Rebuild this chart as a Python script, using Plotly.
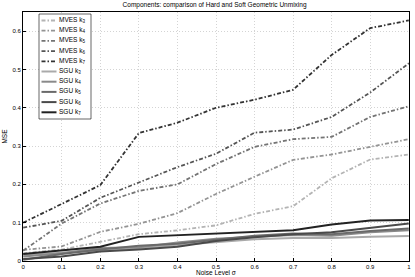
import plotly.graph_objects as go

noise = [0, 0.1, 0.2, 0.3, 0.4, 0.5, 0.6, 0.7, 0.8, 0.9, 1.0]

mves_k3 = [0.020, 0.030, 0.050, 0.070, 0.080, 0.093, 0.123, 0.143, 0.216, 0.265, 0.278]
mves_k4 = [0.029, 0.038, 0.076, 0.097, 0.125, 0.175, 0.220, 0.264, 0.278, 0.298, 0.318]
mves_k5 = [0.027, 0.098, 0.150, 0.183, 0.200, 0.253, 0.298, 0.318, 0.324, 0.376, 0.404]
mves_k6 = [0.087, 0.105, 0.165, 0.205, 0.245, 0.280, 0.335, 0.343, 0.376, 0.440, 0.516]
mves_k7 = [0.100, 0.148, 0.198, 0.334, 0.361, 0.400, 0.421, 0.447, 0.538, 0.608, 0.628]

sgu_k3 = [0.015, 0.022, 0.028, 0.034, 0.042, 0.050, 0.057, 0.060, 0.060, 0.063, 0.065]
sgu_k4 = [0.012, 0.020, 0.034, 0.036, 0.048, 0.058, 0.063, 0.068, 0.066, 0.075, 0.080]
sgu_k5 = [0.003, 0.018, 0.030, 0.040, 0.045, 0.055, 0.066, 0.072, 0.070, 0.078, 0.085]
sgu_k6 = [0.005, 0.012, 0.025, 0.030, 0.037, 0.052, 0.062, 0.070, 0.075, 0.086, 0.098]
sgu_k7 = [0.018, 0.027, 0.037, 0.063, 0.067, 0.073, 0.076, 0.080, 0.095, 0.106, 0.107]

labels_k = ["3", "4", "5", "6", "7"]
mves = [mves_k3, mves_k4, mves_k5, mves_k6, mves_k7]
sgu = [sgu_k3, sgu_k4, sgu_k5, sgu_k6, sgu_k7]

mves_colors = ["#b4b4b4", "#949494", "#747474", "#555555", "#333333"]
sgu_colors = ["#aaaaaa", "#8a8a8a", "#6a6a6a", "#4a4a4a", "#222222"]
MVES_DASH = "4px,2px,1.5px,2px"

x_ticks = [0, 0.1, 0.2, 0.3, 0.4, 0.5, 0.6, 0.7, 0.8, 0.9, 1]
x_ticklabels = ["0", "0.1", "0.2", "0.3", "0.4", "0.5", "0.6", "0.7", "0.8", "0.9", "1"]
y_ticks = [0, 0.1, 0.2, 0.3, 0.4, 0.5, 0.6]
y_ticklabels = ["0", "0.1", "0.2", "0.3", "0.4", "0.5", "0.6"]

W, H = 415, 277
ML, MR, MT, MB = 23, 6, 12, 16
PW, PH = W - ML - MR, H - MT - MB


def px_x(px):
    return (px - ML) / PW


def px_y(py):
    return (H - MB - py) / PH


fig = go.Figure()
for k, vals, c in zip(labels_k, mves, mves_colors):
    fig.add_trace(go.Scatter(x=noise, y=vals, mode="lines", showlegend=False,
                             name=f"MVES k<sub>{k}</sub>",
                             line=dict(color=c, width=1.8, dash=MVES_DASH)))
for k, vals, c in zip(labels_k, sgu, sgu_colors):
    fig.add_trace(go.Scatter(x=noise, y=vals, mode="lines", showlegend=False,
                             name=f"SGU k<sub>{k}</sub>",
                             line=dict(color=c, width=2)))

# custom compact legend (box, line samples, labels)
shapes = [dict(type="rect", xref="paper", yref="paper", layer="above",
               x0=px_x(39), x1=px_x(91), y0=px_y(119), y1=px_y(14),
               line=dict(color="#000", width=0.6), fillcolor="white")]
annotations = []
leg_names = [f"MVES k<sub>{k}</sub>" for k in labels_k] + [f"SGU k<sub>{k}</sub>" for k in labels_k]
leg_colors = mves_colors + sgu_colors
leg_dash = [MVES_DASH] * 5 + ["solid"] * 5
leg_width = [1.8] * 5 + [2] * 5
for i, (nm, c, d, w) in enumerate(zip(leg_names, leg_colors, leg_dash, leg_width)):
    yc = 20.5 + 10.2 * i
    shapes.append(dict(type="line", xref="paper", yref="paper", layer="above",
                       x0=px_x(41.5), x1=px_x(56.5), y0=px_y(yc), y1=px_y(yc),
                       line=dict(color=c, width=w, dash=d)))
    annotations.append(dict(text=nm, xref="paper", yref="paper",
                            x=px_x(57), y=px_y(yc - 0.5), xanchor="left", yanchor="middle",
                            showarrow=False, font=dict(size=6.5, color="#000")))

# x-axis title placed just under the tick labels
annotations.append(dict(text="Noise Level σ", xref="paper", yref="paper",
                        x=0.5, y=px_y(272), xanchor="center", yanchor="middle",
                        showarrow=False, font=dict(size=6.5, color="#000")))

axis_common = dict(showline=True, linecolor="#000", linewidth=1, mirror=True,
                   ticks="inside", ticklen=3, tickcolor="#000",
                   showgrid=True, gridcolor="#d4d4d4", griddash="1px,2px", gridwidth=1,
                   zeroline=False, tickfont=dict(size=6, color="#000"),
                   ticklabeloverflow="allow")

fig.update_layout(
    width=W, height=H,
    margin=dict(l=ML, r=MR, t=MT, b=MB, autoexpand=False),
    paper_bgcolor="white", plot_bgcolor="white",
    font=dict(family="Liberation Sans, Arial, sans-serif", size=6, color="#000"),
    title=dict(text="Components: comparison of Hard and Soft Geometric Unmixing",
               x=0.517, xanchor="center", y=0.99, yanchor="top",
               font=dict(size=6.5)),
    xaxis=dict(range=[-0.0005, 1.0005], tickvals=x_ticks, ticktext=x_ticklabels,
               ticklabelstandoff=0, automargin=False,
               **axis_common),
    yaxis=dict(range=[0, 0.65], tickvals=y_ticks, ticktext=y_ticklabels,
               title=dict(text="MSE", standoff=4, font=dict(size=6.5)),
               automargin=False,
               **axis_common),
    shapes=shapes,
    annotations=annotations,
    showlegend=False,
)

fig.write_html("out.html", config={"displayModeBar": False},
               post_script="document.body.style.margin='0';document.body.style.padding='0';")
